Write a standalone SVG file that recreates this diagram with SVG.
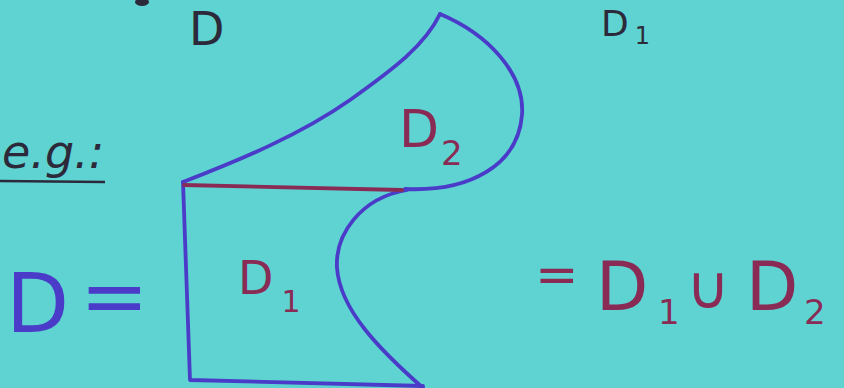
<svg xmlns="http://www.w3.org/2000/svg" width="844" height="388" viewBox="0 0 844 388">
<style>
.bg{fill:#5ed3d1}
.blue{fill:none;stroke:#4a3cc8;stroke-width:3.8;stroke-linecap:round;stroke-linejoin:round}
.maroon{fill:none;stroke:#8a2b55;stroke-width:3.8;stroke-linecap:round}
.t{font-family:"DejaVu Sans","Liberation Sans",sans-serif}
.dark{fill:#2c2a3a}
.tb{fill:#4a3cc8}
.tm{fill:#8a2b55}
</style>
<rect class="bg" x="0" y="0" width="844" height="388"/>
<g id="shape">
<path class="blue" d="M183,182 C240,160 300,135 350,100 C395,68 425,45 440,14"/>
<path class="blue" d="M440,14 C490,35 525,75 522,115 C518,165 470,192 405,189"/>
<path class="blue" d="M407,190 C360,198 335,235 337,268 C340,310 380,350 423,388"/>
<path class="blue" d="M183,182 L190,380 L423,386"/>
<path class="maroon" d="M184,185 L402,190"/>
</g>
<g id="labels" class="t">
<ellipse class="dark" cx="142" cy="2" rx="7" ry="4"/>
<text class="dark" x="189" y="45" font-size="46">D</text>
<text class="dark" x="601" y="36" font-size="36">D<tspan font-size="24" dx="6" dy="8">1</tspan></text>
<text class="dark" x="2" y="168" font-size="46" font-style="italic">e.g.:</text>
<path d="M0,181 L105,182" stroke="#2c2a3a" stroke-width="2.5" fill="none"/>
<text class="tb" x="6" y="332" font-size="82">D</text>
<text class="tb" x="80" y="324" font-size="82">=</text>
<text class="tm" x="399" y="147" font-size="52">D<tspan font-size="34" dx="2" dy="18">2</tspan></text>
<text class="tm" x="238" y="294" font-size="46">D<tspan font-size="30" dx="8" dy="18">1</tspan></text>
<text class="tm" x="535" y="292" font-size="52">=</text>
<text class="tm" x="596" y="310" font-size="68">D</text>
<text class="tm" x="658" y="324" font-size="34">1</text>
<text class="tm" x="686" y="308" font-size="60">∪</text>
<text class="tm" x="746" y="310" font-size="68">D</text>
<text class="tm" x="804" y="324" font-size="34">2</text>
</g>
</svg>
